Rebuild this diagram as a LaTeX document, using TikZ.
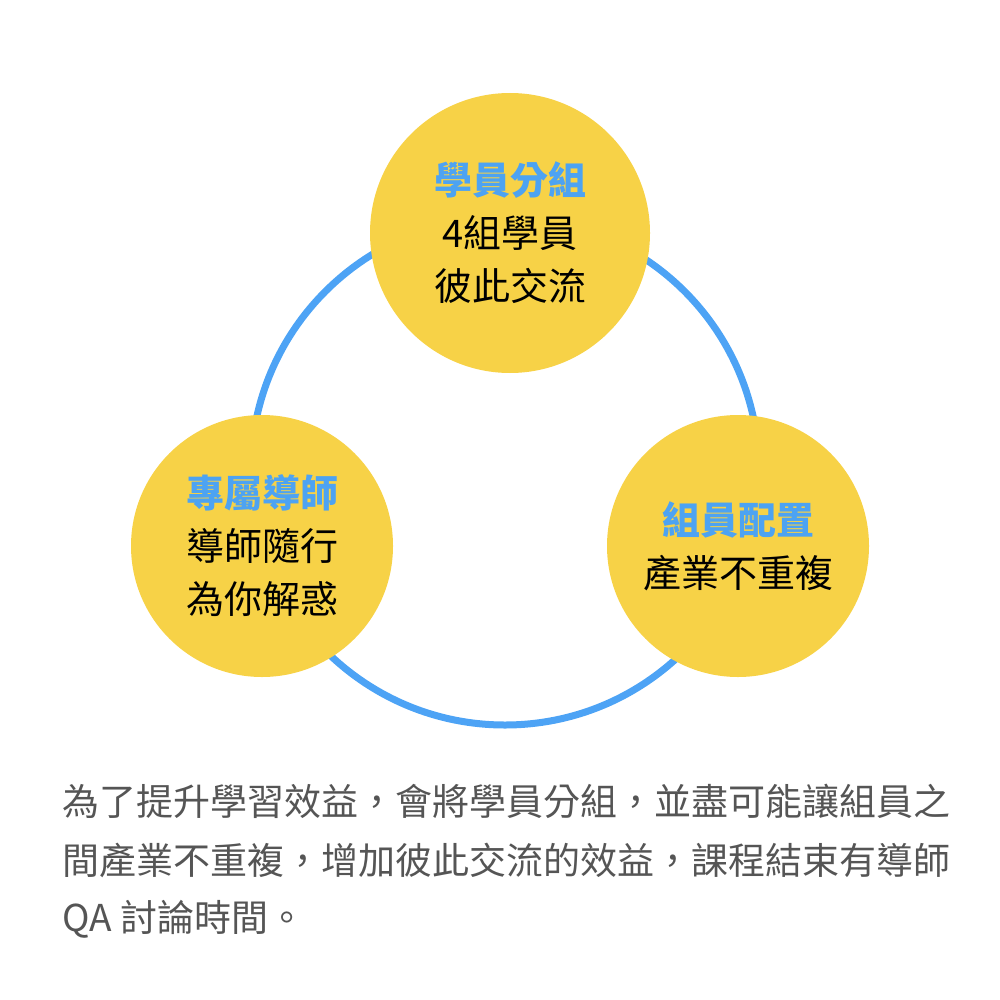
\documentclass[tikz,border=0pt]{standalone}
\usepackage{fontspec}
\setmainfont{Noto Sans CJK TC}
\definecolor{ringblue}{HTML}{4DA3F5}
\definecolor{bubyellow}{HTML}{F7D247}
\definecolor{headblue}{HTML}{4DA3F2}
\definecolor{paragray}{HTML}{555555}

\begin{document}
\begin{tikzpicture}[x=1pt,y=-1pt,
    bub/.style={circle,fill=bubyellow,inner sep=0pt,align=center,text=black,
        font=\fontsize{38}{53}\selectfont},
    para/.style={anchor=west,inner sep=0pt,text=paragray,font=\fontsize{37}{59}\selectfont}]
    \useasboundingbox (0,0) rectangle (1000,1000);

    % ring behind the three groups
    \node[circle,draw=ringblue,line width=7pt,minimum size=508pt,inner sep=0pt] (ring) at (505,471) {};

    \node[bub,minimum size=280pt] (grp) at (510,233) {{\bfseries\color{headblue}學員分組}\\4組學員\\彼此交流};
    \node[bub,minimum size=262pt] (tut) at (262,546) {{\bfseries\color{headblue}專屬導師}\\導師隨行\\為你解惑};
    \node[bub,minimum size=262pt] (cfg) at (738,546) {{\bfseries\color{headblue}組員配置}\\產業不重複};

    % caption
    \node[para] (p1) at (62,801) {為了提升學習效益，會將學員分組，並盡可能讓組員之};
    \node[para] (p2) at (62,860) {間產業不重複，增加彼此交流的效益，課程結束有導師};
    \node[para] (p3) at (62,919) {QA 討論時間。};
\end{tikzpicture}
\end{document}
